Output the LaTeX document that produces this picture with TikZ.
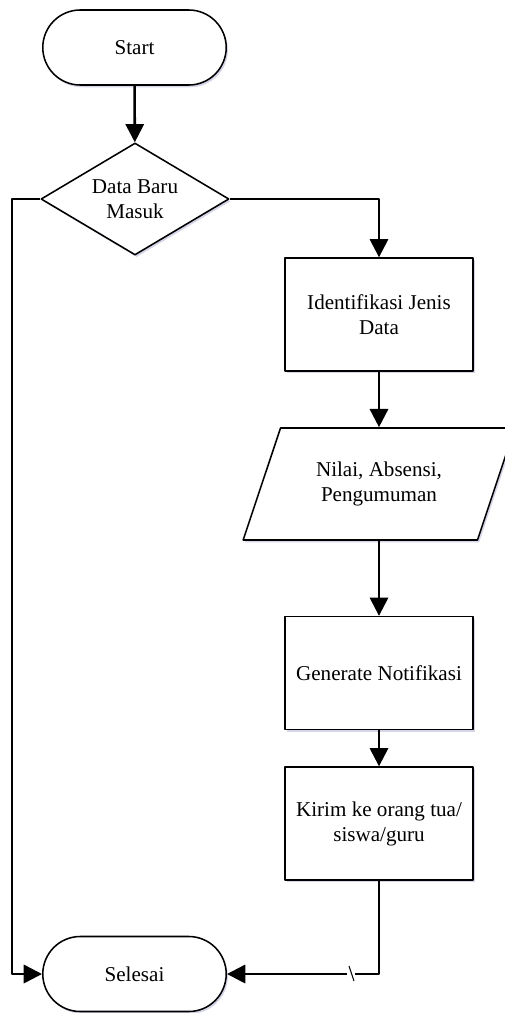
\documentclass[tikz,border=0pt]{standalone}
\usepackage{fontspec}
\setmainfont{Liberation Serif}
\usetikzlibrary{shapes.geometric, shapes.misc, arrows.meta, shadows}

\begin{document}
\begin{tikzpicture}[x=0.025cm, y=-0.025cm, line join=round,
    font=\fontsize{15}{17.8}\selectfont,
    base/.style={draw, line width=1.1pt, fill=white, align=center, inner sep=2pt,
        drop shadow={shadow xshift=1.2pt, shadow yshift=-1.6pt, fill=blue!30!gray, opacity=0.25}},
    terminal/.style={base, rounded rectangle, minimum width=4.725cm, minimum height=1.875cm},
    decision/.style={base, diamond, aspect=1.68, inner sep=0pt, minimum width=4.7cm, minimum height=2.8cm},
    process/.style={base, rectangle, minimum width=4.7cm, minimum height=2.82cm},
    io/.style={base, trapezium, trapezium left angle=63.4, trapezium right angle=116.6,
        trapezium stretches=true, minimum width=6.8cm, minimum height=2.8cm},
    arr/.style={line width=1.8pt, -{Triangle[length=13pt, width=13pt]}}]

    % frame of the picture (505 x 1013 px)
    \useasboundingbox (0,0) rectangle (505,1013);

    % Nodes
    \node[terminal] (start) at (134.5, 47.5) {Start};
    \node[decision] (cek) at (135, 199) {Data Baru\\Masuk};
    \node[process] (identifikasi) at (379, 314.5) {Identifikasi Jenis\\Data};
    \node[io] (data) at (379, 484) {Nilai, Absensi,\\Pengumuman};
    \node[process] (generate) at (379, 673) {Generate Notifikasi};
    \node[process] (kirim) at (379, 823.5) {Kirim ke orang tua/\\siswa/guru};
    \node[terminal] (selesai) at (134.5, 974) {Selesai};

    % Bend of the left line
    \coordinate (kiri) at (12, 199);

    % Connectors
    \draw[arr] (start) -- (cek);
    \draw[arr] (cek.east) -| (identifikasi.north);
    \draw[arr] (identifikasi.south) -- (identifikasi.south |- data.north);
    \draw[arr] (generate.north |- data.south) -- (generate.north);
    \draw[arr] (generate.south) -- (kirim.north);
    \draw[arr] (cek.west) -- (kiri) |- (selesai.west);
    \draw[arr] (kirim.south) |- (selesai.east);

    % small jump mark on the lower line
    \draw[white, line width=2.4pt] (347, 974) -- (355, 974);
    \draw[line width=0.7pt] (349, 966) -- (354, 981);

\end{tikzpicture}
\end{document}
